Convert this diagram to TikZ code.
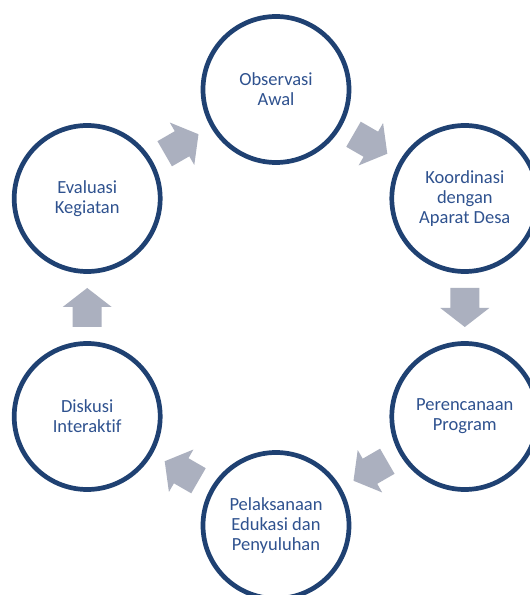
\documentclass[tikz,border=0pt]{standalone}
\usepackage{fontspec}
\setmainfont{Carlito}[Ligatures=NoCommon]
\usetikzlibrary{calc}
\definecolor{ringblue}{HTML}{1F4172}
\definecolor{txtblue}{HTML}{2F528F}
\definecolor{arrowgray}{HTML}{ABB0BF}
\tikzset{
  stage/.style={circle, draw=ringblue, line width=4.7pt, fill=white,
    minimum size=146pt, inner sep=0pt, outer sep=0pt, align=center,
    text=txtblue, font=\fontsize{18.5}{20}\selectfont},
  blockarrow/.style={fill=arrowgray, draw=none}
}
\newcommand\cyclearrow[3]{%
  \path[blockarrow, shift={($(#1)!0.5!(#2)$)}, rotate=#3]
    (-19.5,-14.5) -- (0.5,-14.5) -- (0.5,-24.5) -- (19.5,0) --
    (0.5,24.5) -- (0.5,14.5) -- (-19.5,14.5) -- cycle;}
\begin{document}
\begin{tikzpicture}[x=1pt,y=1pt]
\useasboundingbox (0,0) rectangle (530,595);
\clip (0,0) rectangle (530,595);
\fill[white] (0,0) rectangle (530,595);
\node[stage] (obs) at (276,505.5) {Observasi\\Awal};
\node[stage] (koo) at (464.8,396.5) {Koordinasi\\dengan\\Aparat Desa};
\node[stage] (per) at (464.8,178.5) {Perencanaan\\Program};
\node[stage] (pel) at (276,69.5) {Pelaksanaan\\Edukasi dan\\Penyuluhan};
\node[stage] (dis) at (87.2,178.5) {Diskusi\\Interaktif};
\node[stage] (eva) at (87.2,396.5) {Evaluasi\\Kegiatan};
\cyclearrow{obs}{koo}{-30}
\cyclearrow{koo}{per}{-90}
\cyclearrow{per}{pel}{-150}
\cyclearrow{pel}{dis}{150}
\cyclearrow{dis}{eva}{90}
\cyclearrow{eva}{obs}{30}
\end{tikzpicture}
\end{document}
